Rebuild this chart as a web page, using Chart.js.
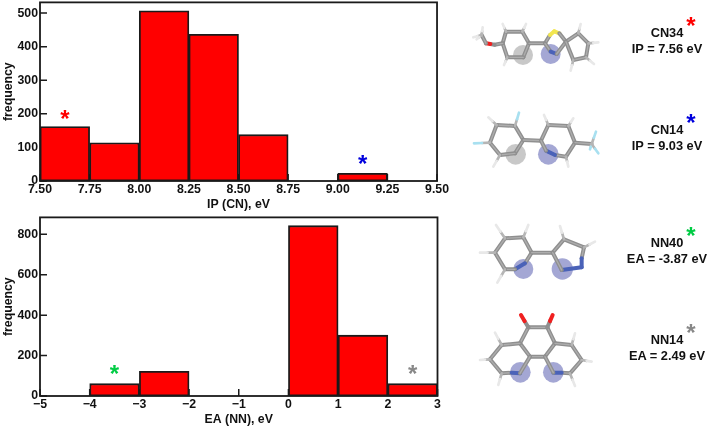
<!DOCTYPE html>
<html>
<head>
<meta charset="utf-8">
<script src="https://cdn.jsdelivr.net/npm/chart.js@4/dist/chart.umd.js"></script>
<style>
html, body { margin: 0; padding: 0; background: #fff; overflow: hidden; }
body { width: 709px; height: 427px; position: relative; font-family: "Liberation Sans", Arial, sans-serif; }
.plot { position: absolute; left: 0; width: 450px; height: 222px; }
#mol { position: absolute; left: 0; top: 0; }
.lab { position: absolute; width: 120px; text-align: center; font-weight: bold; font-size: 12.8px; line-height: 15.5px; color: #111; }
.star { position: absolute; font-weight: bold; font-size: 24px; line-height: 24px; width: 20px; text-align: center; }
</style>
</head>
<body>
<div class="plot" style="top:-7px"><canvas id="ipchart" width="450" height="222"></canvas></div>
<div class="plot" style="top:208px"><canvas id="eachart" width="450" height="222"></canvas></div>
<svg id="mol" width="709" height="427"></svg>
<div id="labels"></div>

<script>
// top histogram
var ipBins = [7.625, 7.875, 8.125, 8.375, 8.625, 8.875, 9.125, 9.375];
var ipCounts = [162, 114, 507, 437, 138, 0, 23, 0];
var ipTicks = [7.5, 7.75, 8, 8.25, 8.5, 8.75, 9, 9.25, 9.5];
var ipFreqTicks = [0, 100, 200, 300, 400, 500];
var ipStarX = [7.625, 9.125];
var ipStarY = [180, 46];
var ipStarColors = ['#ff0000', '#0000dd'];

// bottom histogram
var eaBins = [-4.5, -3.5, -2.5, -1.5, -0.5, 0.5, 1.5, 2.5];
var eaCounts = [0, 61, 122, 0, 0, 843, 301, 61];
var eaTicks = [-5, -4, -3, -2, -1, 0, 1, 2, 3];
var eaFreqTicks = [0, 200, 400, 600, 800];
var eaStarX = [-3.5, 2.5];
var eaStarY = [100, 100];
var eaStarColors = ['#00cc44', '#888888'];

var FONT = '"Liberation Sans", Arial, sans-serif';
var INK = '#111111';

// inward ticks go under the bars, frame and stars on top
var framePlugin = {
    id: 'frame',
    beforeDatasetsDraw: function (chart) {
        var ctx = chart.ctx, a = chart.chartArea;
        var xs = chart.scales.x, ys = chart.scales.y;
        ctx.save();
        ctx.strokeStyle = '#1a1a1a';
        ctx.lineWidth = 1.5;
        ctx.beginPath();
        xs.ticks.forEach(function (t) {
            var px = xs.getPixelForValue(t.value);
            ctx.moveTo(px, a.bottom);
            ctx.lineTo(px, a.bottom - 7);
        });
        ys.ticks.forEach(function (t) {
            var py = ys.getPixelForValue(t.value);
            ctx.moveTo(a.left, py);
            ctx.lineTo(a.left + 7, py);
        });
        ctx.stroke();
        ctx.restore();
    },
    afterDatasetsDraw: function (chart, args, opts) {
        var ctx = chart.ctx, a = chart.chartArea;
        var xs = chart.scales.x, ys = chart.scales.y;
        ctx.save();
        ctx.strokeStyle = '#1a1a1a';
        ctx.lineWidth = 1.8;
        ctx.strokeRect(a.left, a.top, a.right - a.left, a.bottom - a.top);
        ctx.font = 'bold 24px ' + FONT;
        ctx.textAlign = 'center';
        ctx.textBaseline = 'middle';
        opts.starX.forEach(function (x, i) {
            ctx.fillStyle = opts.starColors[i];
            ctx.fillText('*', xs.getPixelForValue(x), ys.getPixelForValue(opts.starY[i]));
        });
        ctx.restore();
    }
};

function makeHist(id, bins, counts, xTicks, yTicks, yMax, xTitle, xFmt, starX, starY, starColors) {
    var points = bins.map(function (b, i) { return { x: b, y: counts[i] }; });
    var tickFont = { family: FONT, size: 12.3, weight: 'bold' };
    return new Chart(document.getElementById(id).getContext('2d'), {
        type: 'bar',
        data: {
            datasets: [{
                data: points,
                backgroundColor: '#ff0000',
                borderColor: '#1a1a1a',
                borderWidth: 1.8,
                borderSkipped: false,
                barPercentage: 1,
                categoryPercentage: 1
            }]
        },
        options: {
            responsive: false,
            animation: false,
            layout: { padding: { top: 2, right: 12.5, bottom: 0, left: 0 } },
            plugins: {
                legend: { display: false },
                tooltip: { enabled: false },
                frame: { starX: starX, starY: starY, starColors: starColors }
            },
            scales: {
                x: {
                    type: 'linear',
                    offset: false,
                    min: xTicks[0],
                    max: xTicks[xTicks.length - 1],
                    grid: { display: false, offset: false, drawTicks: false },
                    border: { display: false },
                    afterFit: function (s) { s.height = 34; },
                    afterBuildTicks: function (s) {
                        s.ticks = xTicks.map(function (v) { return { value: v }; });
                    },
                    ticks: {
                        color: INK,
                        font: tickFont,
                        padding: 1,
                        autoSkip: false,
                        maxRotation: 0,
                        callback: xFmt
                    },
                    title: { display: true, text: xTitle, color: INK, font: tickFont, padding: { top: 2, bottom: 3 } }
                },
                y: {
                    min: 0,
                    max: yMax,
                    grid: { display: false, drawTicks: false },
                    border: { display: false },
                    afterFit: function (s) { s.width = 40; },
                    afterBuildTicks: function (s) {
                        s.ticks = yTicks.map(function (v) { return { value: v }; });
                    },
                    ticks: { color: INK, font: tickFont, padding: 2 },
                    title: { display: true, text: 'frequency', color: INK, font: tickFont, padding: { top: 1, bottom: 0 } }
                }
            }
        },
        plugins: [framePlugin]
    });
}

makeHist('ipchart', ipBins, ipCounts, ipTicks, ipFreqTicks, 532, 'IP (CN), eV',
    function (v) { return v.toFixed(2); }, ipStarX, ipStarY, ipStarColors);
makeHist('eachart', eaBins, eaCounts, eaTicks, eaFreqTicks, 884, 'EA (NN), eV',
    function (v) { return v < 0 ? '\u2212' + Math.abs(v) : '' + v; }, eaStarX, eaStarY, eaStarColors);

// molecule sketches on the right, numbers are in zoomed crop units (3x)
var G = '#8f8f8f', H = '#e8e8e8', N = '#4a62b8', O = '#f02020', S = '#f2e650', F = '#a8e0f0';
var mols = [
    { ox: 460, oy: 0,
      halos: [[189, 165, 30, '#9a9a9a'], [272, 162, 30, '#5a5fb0']],
      bonds: [[128,130,138,95,G],[138,95,187,95,G],[187,95,207,130,G],[207,130,190,172,G],[190,172,142,172,G],[142,172,128,130,G],
              [207,130,255,130,G],[255,130,270,105,G],[270,105,283,94,S],[283,94,298,100,S],[298,100,318,125,G],[255,130,272,155,G],
              [272,155,290,162,N],[290,162,318,125,G],[318,125,355,100,G],[355,100,385,130,G],[385,130,378,172,G],[378,172,340,180,G],[340,180,318,125,G],
              [128,130,104,134,G],[104,134,78,130,O],[78,130,65,105,G],[65,105,40,112,H],[65,105,68,82,H],[65,105,50,118,H],
              [138,95,128,72,H],[187,95,198,72,H],[142,172,132,195,H],[355,100,362,72,H],[385,130,415,127,H],[378,172,402,192,H],[340,180,332,212,H]] },
    { ox: 460, oy: 0,
      halos: [[167, 463, 31, '#9a9a9a'], [265, 463, 31, '#5a5fb0']],
      bonds: [[110,375,165,378,G],[165,378,190,420,G],[190,420,165,460,G],[165,460,120,465,G],[120,465,90,428,G],[90,428,110,375,G],
              [190,420,243,422,G],[243,422,265,375,G],[265,375,325,378,G],[325,378,345,428,G],[345,428,318,470,G],[318,470,285,465,G],[285,465,258,452,N],[258,452,243,422,G],
              [345,428,395,432,G],[395,432,408,395,F],[395,432,415,460,F],[395,432,390,448,F],
              [110,375,85,352,H],[165,378,177,338,F],[90,428,42,430,F],[120,465,100,500,H],[265,375,252,345,H],[325,378,340,355,H],[318,470,325,500,H]] },
    { ox: 460, oy: 210,
      halos: [[190, 177, 30, '#5a5fb0'], [307, 177, 32, '#5a5fb0']],
      bonds: [[135,85,190,82,G],[190,82,215,128,G],[215,128,195,160,G],[195,160,165,178,N],[165,178,135,178,G],[135,178,105,128,G],[105,128,135,85,G],
              [215,128,278,128,G],[278,128,312,88,G],[312,88,372,112,G],[372,112,365,145,G],[365,145,365,172,N],[365,172,305,180,N],[305,180,278,128,G],
              [135,85,108,45,H],[190,82,205,45,H],[105,128,60,128,H],[135,178,112,218,H],[312,88,300,48,H],[372,112,405,95,H]] },
    { ox: 460, oy: 210,
      halos: [[181, 487, 31, '#5a5fb0'], [280, 487, 31, '#5a5fb0']],
      bonds: [[205,352,262,352,G],[262,352,285,400,G],[285,400,255,440,G],[255,440,210,440,G],[210,440,180,400,G],[180,400,205,352,G],
              [205,352,183,315,O],[262,352,278,315,O],
              [180,400,125,405,G],[125,405,90,448,G],[90,448,125,490,G],[125,490,155,488,G],[155,488,180,490,N],[180,490,210,440,G],
              [285,400,335,405,G],[335,405,365,450,G],[365,450,330,490,G],[330,490,305,488,G],[305,488,280,488,N],[280,488,255,440,G],
              [125,405,105,368,H],[90,448,60,450,H],[125,490,115,525,H],[335,405,345,370,H],[365,450,395,455,H],[330,490,345,528,H]] }
];

function stick(x1, y1, x2, y2, color, w) {
    return '<line x1="' + x1 + '" y1="' + y1 + '" x2="' + x2 + '" y2="' + y2 +
        '" stroke="' + color + '" stroke-width="' + w + '" stroke-linecap="round"/>';
}

var svgText = '';
mols.forEach(function (m) {
    svgText += '<g transform="translate(' + m.ox + ',' + m.oy + ') scale(0.3333)">';
    m.halos.forEach(function (c) {
        svgText += '<circle cx="' + c[0] + '" cy="' + c[1] + '" r="' + c[2] + '" fill="' + c[3] + '" fill-opacity="0.55"/>';
    });
    m.bonds.forEach(function (b) {
        var c = b[4];
        var mx = (b[0] + b[2]) / 2, my = (b[1] + b[3]) / 2;
        if (c == H || c == F || c == O) {
            // half grey stick, coloured end
            svgText += stick(b[0], b[1], mx, my, c == O ? G : '#b5b5b5', c == O ? 12 : 8);
            svgText += stick(mx, my, b[2], b[3], c, c == O ? 12 : 8);
        } else {
            svgText += stick(b[0], b[1], b[2], b[3], c, 12);
            if (c == G) svgText += stick(b[0], b[1], b[2], b[3], '#adadad', 4);
        }
    });
    svgText += '</g>';
});
document.getElementById('mol').innerHTML = svgText;

// names next to the molecules
var molNames = ['CN34', 'CN14', 'NN40', 'NN14'];
var molValues = ['IP = 7.56 eV', 'IP = 9.03 eV', 'EA = -3.87 eV', 'EA = 2.49 eV'];
var molStarColors = ['#ff0000', '#0000dd', '#00cc44', '#888888'];
var labelTops = [25, 122, 235, 332];

var html = '';
molNames.forEach(function (name, i) {
    html += '<div class="lab" style="left:607px;top:' + labelTops[i] + 'px">' + name + '<br>' + molValues[i] + '</div>';
    html += '<div class="star" style="left:681px;top:' + (labelTops[i] - 11) + 'px;color:' + molStarColors[i] + '">*</div>';
});
document.getElementById('labels').innerHTML = html;
</script>
</body>
</html>
